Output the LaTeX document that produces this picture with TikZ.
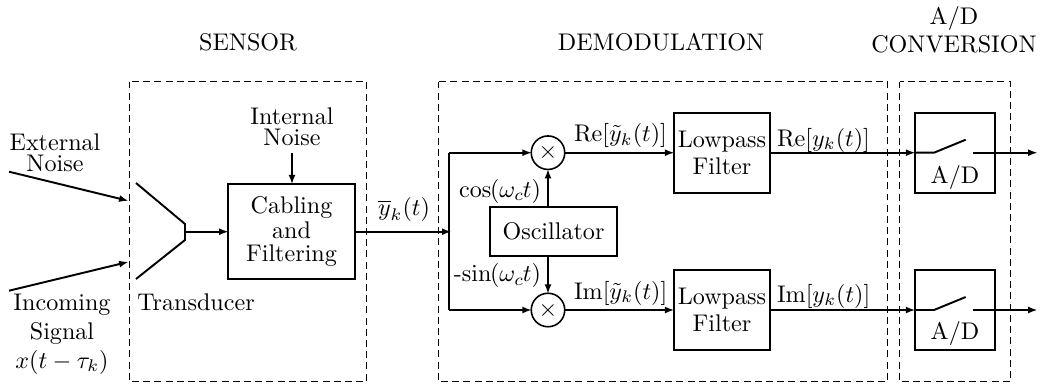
\documentclass[tikz,border=0pt]{standalone}
\usetikzlibrary{arrows.meta}
\tikzset{
  lbl/.style={inner sep=0pt,outer sep=0pt},
  txt/.style={lbl,anchor=base},
  lead/.style={line width=0.8pt},
  arr/.style={lead,-{Latex[length=4pt,width=2.9pt]},shorten >=-0.3pt},
  blockbox/.style={draw,line width=0.85pt,align=center,inner sep=0pt,outer sep=0pt},
  groupframe/.style={draw,line width=0.42pt,dash pattern=on 2.9pt off 1.75pt,inner sep=0pt},
  mixer/.style={draw,circle,line width=0.65pt,minimum size=13.9pt,inner sep=0pt,outer sep=0pt},
}
\begin{document}
\begin{tikzpicture}[x=0.415pt,y=-0.415pt]
\useasboundingbox (0,0) rectangle (1042,383);
% group frames
\draw[groupframe] (129.5,81.5) rectangle (366.5,381.5);
\draw[groupframe] (438.5,81.5) rectangle (887.5,381.5);
\draw[groupframe] (899.5,81.5) rectangle (1010.5,381.5);
% headings
\node[txt] (hsensor) at (248,50) {SENSOR};
\node[txt] (hdemod) at (661,50) {DEMODULATION};
\node[txt] (had) at (954,24) {A/D};
\node[txt] (hconv) at (954,52) {CONVERSION};
% blocks
\node[blockbox,minimum width=52.7pt,minimum height=39.6pt] (cab) at (291.5,231.5) {Cabling\\[-1.4pt]and\\[-2.5pt]Filtering};
\node[blockbox,minimum width=52.7pt,minimum height=20.2pt] (osc) at (553.5,231.5) {Oscillator};
\node[blockbox,minimum width=40pt,minimum height=33.2pt] (lp1) at (722,152.7) {Lowpass\\[-1pt]Filter};
\node[blockbox,minimum width=40pt,minimum height=33.2pt] (lp2) at (722,310) {Lowpass\\[-1pt]Filter};
\node[blockbox,minimum width=33.4pt,minimum height=33.2pt] (ad1) at (955,152.7) {};
\node[blockbox,minimum width=33.4pt,minimum height=33.2pt] (ad2) at (955,310) {};
\node[txt] (ad1t) at (955,183.5) {A/D};
\node[txt] (ad2t) at (955,339) {A/D};
\node[mixer] (m1) at (548,152.7) {$\times$};
\node[mixer] (m2) at (548,310) {$\times$};
% free ends
\coordinate (extA) at (9,171.7);
\coordinate (extB) at (128,200.7);
\coordinate (incA) at (9,290.7);
\coordinate (incB) at (128,262);
\coordinate (tr1) at (136,183);
\coordinate (tr2) at (185,224);
\coordinate (tr3) at (185,240);
\coordinate (tr4) at (136,279);
\coordinate (trm) at (185,231.7);
\coordinate (intN) at (292,153);
\coordinate (sum) at (449,231.7);
\coordinate (sumT) at (449,152.7);
\coordinate (sumB) at (449,310);
\coordinate (sw1) at (934,152.7);
\coordinate (sw1b) at (965.7,139.7);
\coordinate (sw1c) at (973.3,152.7);
\coordinate (out1) at (1037,152.7);
\coordinate (sw2) at (934,310);
\coordinate (sw2b) at (965.7,297);
\coordinate (sw2c) at (973.3,310);
\coordinate (out2) at (1037,310);
% connectors
\draw[arr] (extA) -- (extB);
\draw[arr] (incA) -- (incB);
\draw[lead] (tr1) -- (tr2) -- (tr3) -- (tr4);
\draw[arr] (trm) -- (cab.west |- trm);
\draw[arr] (intN) -- (intN |- cab.north);
\draw[arr] (cab.east |- sum) -- ([xshift=0.8pt]sum);
\draw[lead] (sumT) -- (sumB);
\draw[arr] (sumT) -- (m1);
\draw[arr] (sumB) -- (m2);
\draw[arr] (m1 |- osc.north) -- (m1);
\draw[arr] (m2 |- osc.south) -- (m2);
\draw[arr] (m1) -- (lp1);
\draw[arr] (m2) -- (lp2);
\draw[arr] (lp1) -- (ad1.west);
\draw[arr] (lp2) -- (ad2.west);
\draw[lead] (ad1.west) -- (sw1) -- (sw1b);
\draw[lead] (ad2.west) -- (sw2) -- (sw2b);
\draw[arr] (sw1c) -- (out1);
\draw[arr] (sw2c) -- (out2);
% labels
\node[lbl,align=center] (lext) at (55,153) {External\\[-3.3pt]Noise};
\node[lbl,align=center] (lint) at (292,126.5) {Internal\\[-3.3pt]Noise};
\node[lbl,align=center] (linc) at (62,334) {Incoming\\Signal\\$x(t-\tau_k)$};
\node[txt] (ltr) at (196,310) {Transducer};
\node[txt] (lybar) at (404,215) {$\overline{y}_k(t)$};
\node[txt,anchor=base east] (lcos) at (541,197) {$\cos\mkern-1mu(\omega_c\mkern-1mu t)$};
\node[txt,anchor=base east] (lsin) at (541,281.7) {-$\sin\mkern-1mu(\omega_c\mkern-1mu t)$};
\node[txt,anchor=base west] (lre) at (574,141.7) {$\mathrm{Re}[\tilde y_k(t)]$};
\node[txt,anchor=base west] (lim) at (574,299) {$\mathrm{Im}[\tilde y_k(t)]$};
\node[txt,anchor=base west] (lre2) at (777,146) {$\mathrm{Re}[y_k(t)]$};
\node[txt,anchor=base west] (lim2) at (777,302) {$\mathrm{Im}[y_k(t)]$};
\end{tikzpicture}
\end{document}
